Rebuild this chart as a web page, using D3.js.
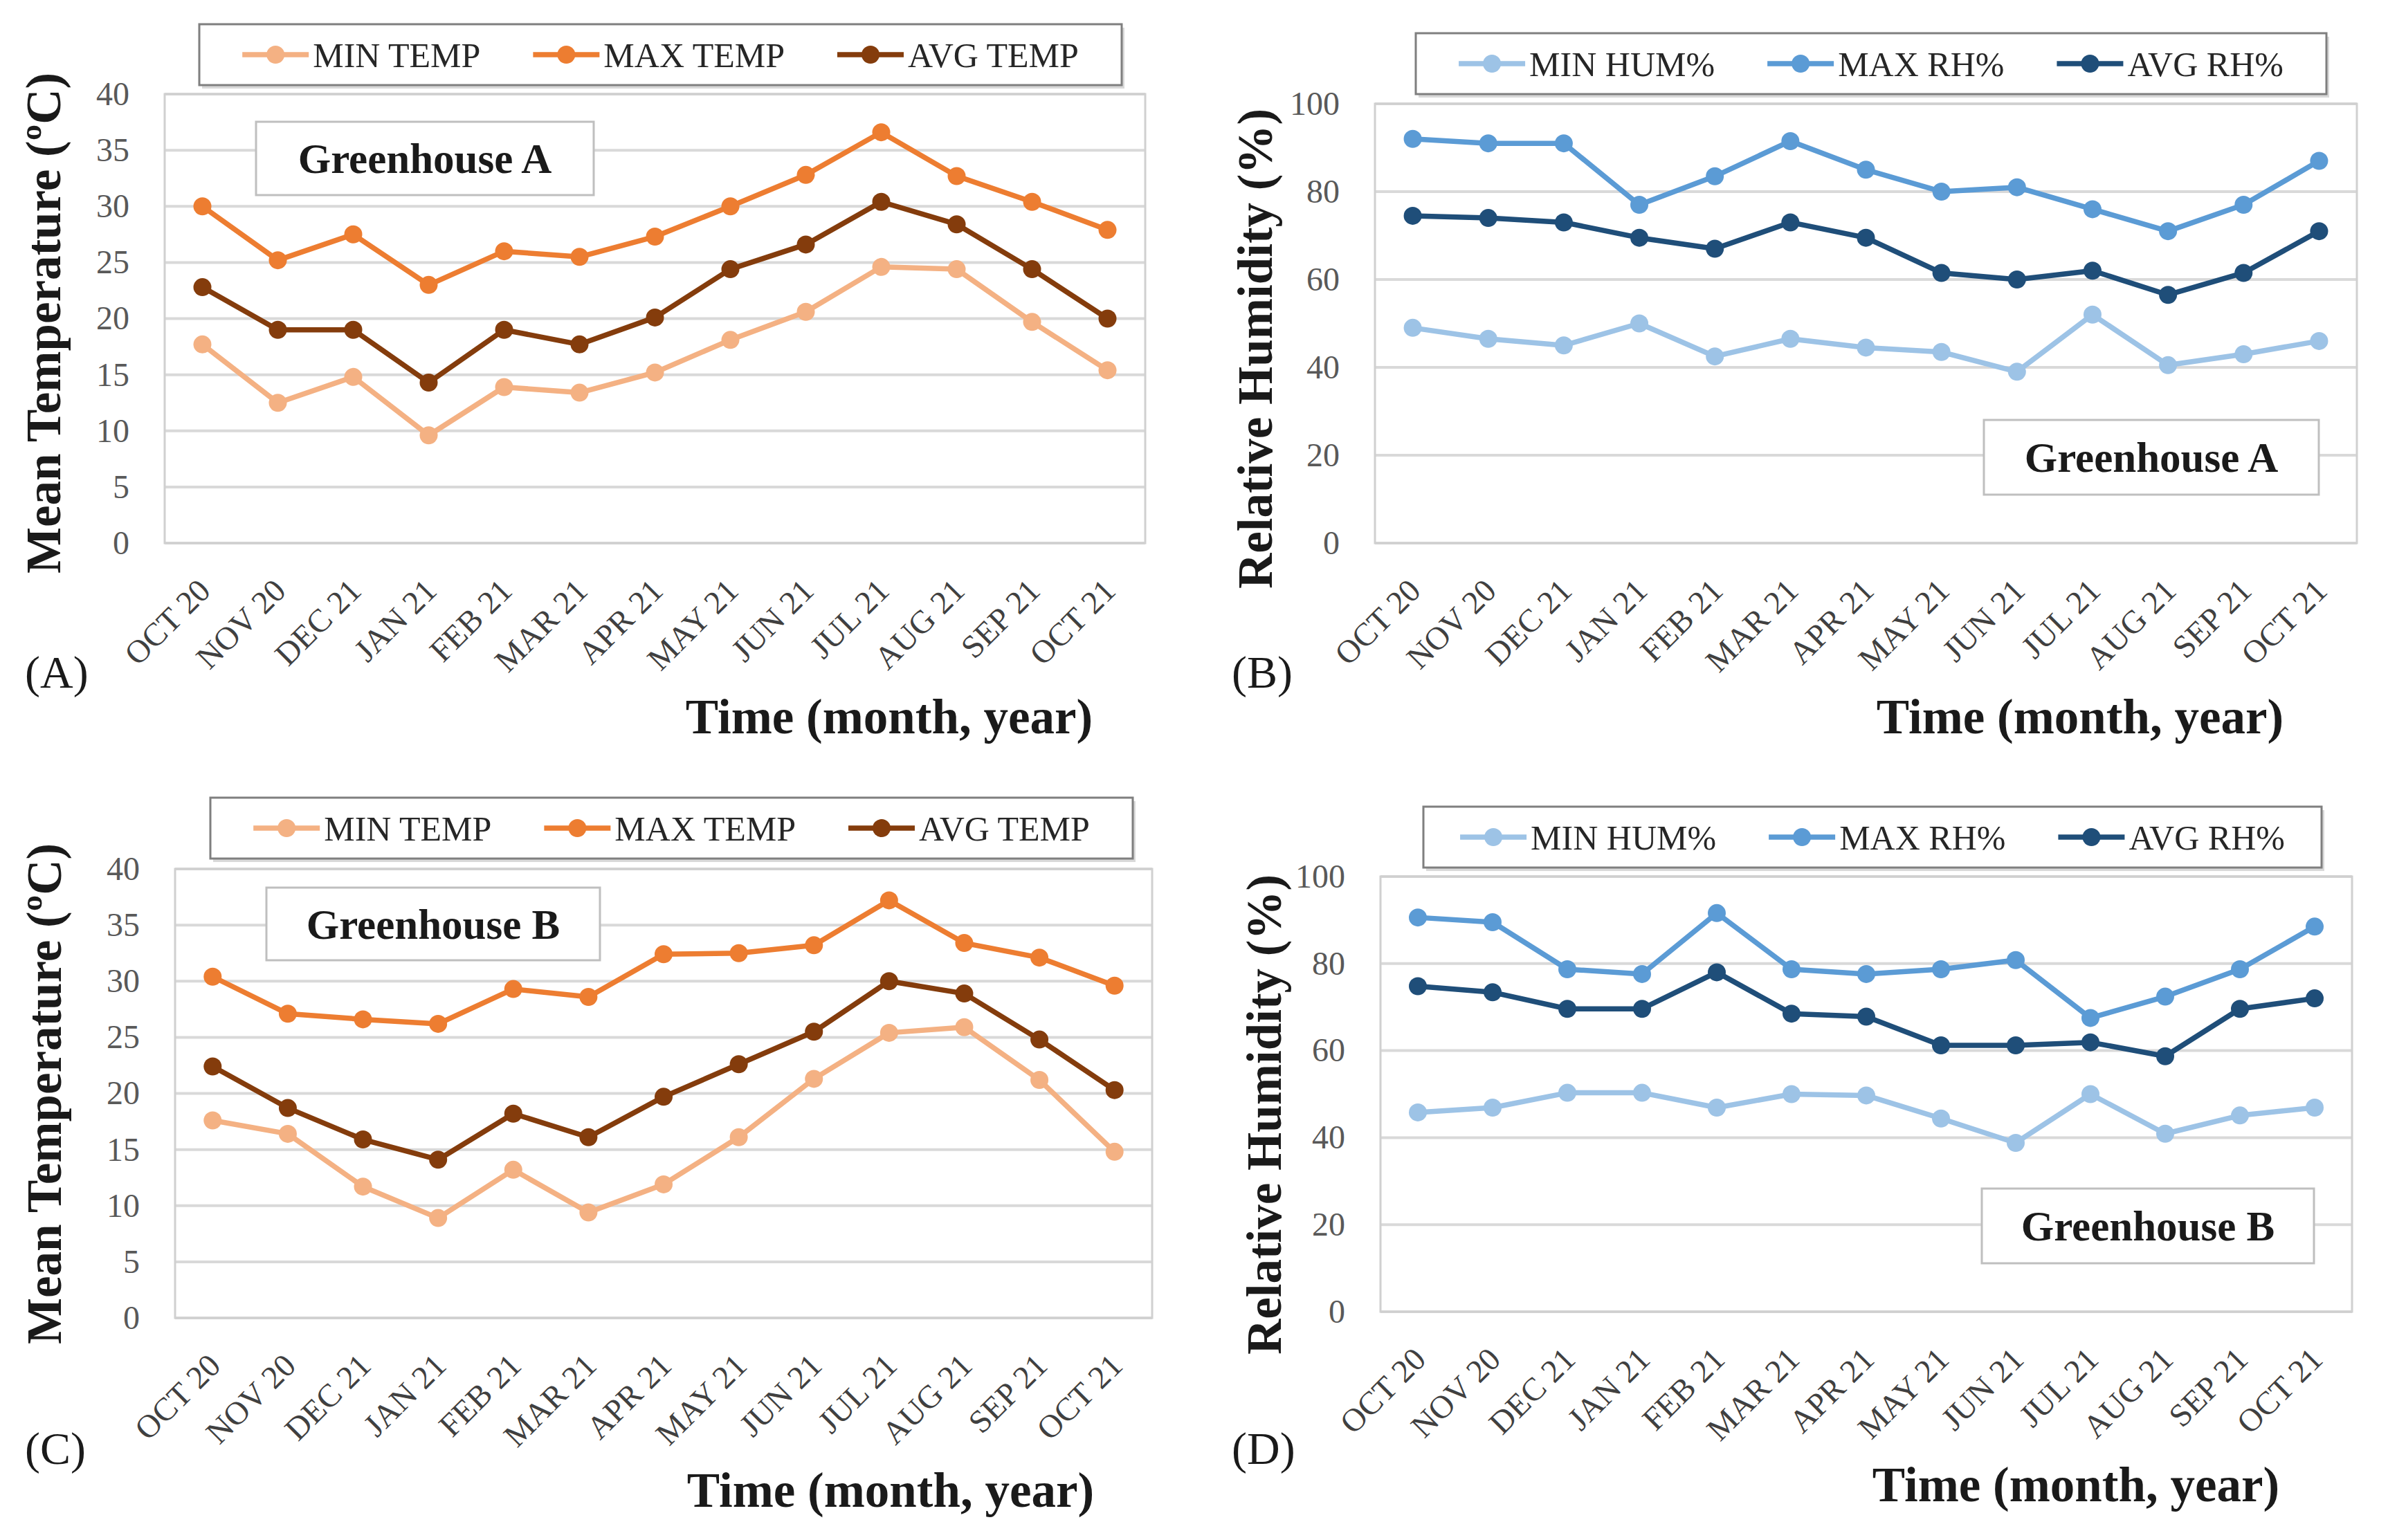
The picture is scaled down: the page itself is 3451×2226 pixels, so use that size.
<!DOCTYPE html>
<html>
<head>
<meta charset="utf-8">
<script src="https://cdn.jsdelivr.net/npm/d3@7"></script>
<style>
  body { margin: 0; background: #fff; }
  svg { display: block; }
  text { font-family: "Liberation Serif", "Times New Roman", serif; }
</style>
</head>
<body>
<svg id="chart"></svg>
<script>
const months = ["OCT 20", "NOV 20", "DEC 21", "JAN 21", "FEB 21", "MAR 21", "APR 21",
                "MAY 21", "JUN 21", "JUL 21", "AUG 21", "SEP 21", "OCT 21"];

// Greenhouse A
const tempMinA = [17.7, 12.5, 14.8, 9.6, 13.9, 13.4, 15.2, 18.1, 20.6, 24.6, 24.4, 19.7, 15.4];
const tempMaxA = [30.0, 25.2, 27.5, 23.0, 26.0, 25.5, 27.3, 30.0, 32.8, 36.6, 32.7, 30.4, 27.9];
const tempAvgA = [22.8, 19.0, 19.0, 14.3, 19.0, 17.7, 20.1, 24.4, 26.6, 30.4, 28.4, 24.4, 20.0];
const rhMinA = [49.0, 46.5, 45.0, 50.0, 42.5, 46.5, 44.5, 43.5, 39.0, 52.0, 40.5, 43.0, 46.0];
const rhMaxA = [92.0, 91.0, 91.0, 77.0, 83.5, 91.5, 85.0, 80.0, 81.0, 76.0, 71.0, 77.0, 87.0];
const rhAvgA = [74.5, 74.0, 73.0, 69.5, 67.0, 73.0, 69.5, 61.5, 60.0, 62.0, 56.5, 61.5, 71.0];

// Greenhouse B
const tempMinB = [17.6, 16.4, 11.7, 8.9, 13.2, 9.4, 11.9, 16.1, 21.3, 25.4, 25.9, 21.2, 14.8];
const tempMaxB = [30.4, 27.1, 26.6, 26.2, 29.3, 28.6, 32.4, 32.5, 33.2, 37.2, 33.4, 32.1, 29.6];
const tempAvgB = [22.4, 18.7, 15.9, 14.1, 18.2, 16.1, 19.7, 22.6, 25.5, 30.0, 28.9, 24.8, 20.3];
const rhMinB = [45.8, 46.9, 50.3, 50.3, 46.9, 50.0, 49.7, 44.4, 38.8, 50.0, 40.9, 45.1, 46.9];
const rhMaxB = [90.6, 89.5, 78.7, 77.6, 91.6, 78.7, 77.6, 78.7, 80.8, 67.5, 72.4, 78.7, 88.5];
const rhAvgB = [74.8, 73.4, 69.6, 69.6, 78.0, 68.5, 67.8, 61.2, 61.2, 61.9, 58.7, 69.6, 72.0];

const tempNames = ["MIN TEMP", "MAX TEMP", "AVG TEMP"];
const rhNames = ["MIN HUM%", "MAX RH%", "AVG RH%"];
const tempColors = ["#f4b183", "#ed7d31", "#843c0c"];
const rhColors = ["#9dc3e6", "#5b9bd5", "#1f4e79"];

const W = 3451, H = 2226;
const svg = d3.select("#chart").attr("width", W).attr("height", H);

const panels = [
  { letter: "(A)", house: "Greenhouse A", yTitle: "Mean Temperature (ºC)", yMax: 40, step: 5,
    names: tempNames, colors: tempColors, series: [tempMinA, tempMaxA, tempAvgA],
    plot: {left: 238, right: 1655, top: 136, bottom: 785},
    legend: {x: 288, y: 35, w: 1333, h: 88},
    label: {x: 370, y: 176, w: 488, h: 106},
    letterPos: [36, 994], timePos: [1285, 1060], yTitlePos: [62, 467] },
  { letter: "(B)", house: "Greenhouse A", yTitle: "Relative Humidity (%)", yMax: 100, step: 20,
    names: rhNames, colors: rhColors, series: [rhMinA, rhMaxA, rhAvgA],
    plot: {left: 1987, right: 3406, top: 150, bottom: 785},
    legend: {x: 2046, y: 48, w: 1316, h: 88},
    label: {x: 2867, y: 607, w: 484, h: 108},
    letterPos: [1780, 994], timePos: [3006, 1060], yTitlePos: [1813, 504] },
  { letter: "(C)", house: "Greenhouse B", yTitle: "Mean Temperature (ºC)", yMax: 40, step: 5,
    names: tempNames, colors: tempColors, series: [tempMinB, tempMaxB, tempAvgB],
    plot: {left: 253, right: 1665, top: 1256, bottom: 1905},
    legend: {x: 304, y: 1153, w: 1333, h: 88},
    label: {x: 385, y: 1283, w: 482, h: 105},
    letterPos: [36, 2116], timePos: [1287, 2178], yTitlePos: [63, 1581] },
  { letter: "(D)", house: "Greenhouse B", yTitle: "Relative Humidity (%)", yMax: 100, step: 20,
    names: rhNames, colors: rhColors, series: [rhMinB, rhMaxB, rhAvgB],
    plot: {left: 1995, right: 3399, top: 1267, bottom: 1896},
    legend: {x: 2057, y: 1166, w: 1298, h: 88},
    label: {x: 2864, y: 1718, w: 480, h: 108},
    letterPos: [1780, 2116], timePos: [3000, 2170], yTitlePos: [1826, 1611] }
];

panels.forEach(drawPanel);

function drawPanel(p) {
  const g = svg.append("g");
  const x = d3.scalePoint().domain(months).range([p.plot.left, p.plot.right]).padding(0.5);
  const y = d3.scaleLinear().domain([0, p.yMax]).range([p.plot.bottom, p.plot.top]);
  const ticks = d3.range(0, p.yMax + p.step / 2, p.step);

  // gridlines
  g.append("g").selectAll("line").data(ticks).join("line")
    .attr("x1", p.plot.left).attr("x2", p.plot.right)
    .attr("y1", d => y(d)).attr("y2", d => y(d))
    .attr("stroke", "#d9d9d9").attr("stroke-width", 4);

  // plot border
  g.append("rect")
    .attr("x", p.plot.left).attr("y", p.plot.top)
    .attr("width", p.plot.right - p.plot.left).attr("height", p.plot.bottom - p.plot.top)
    .attr("fill", "none").attr("stroke", "#d0d0d0").attr("stroke-width", 3);

  // y axis labels
  const ya = g.append("g").attr("transform", `translate(${p.plot.left},0)`)
    .call(d3.axisLeft(y).tickValues(ticks).tickSize(0).tickPadding(51));
  ya.select(".domain").remove();
  ya.selectAll("text").attr("font-size", 48).attr("fill", "#595959")
    .style("font-family", "'Liberation Serif', serif");

  // x axis labels
  const xa = g.append("g").attr("transform", `translate(0,${p.plot.bottom})`)
    .call(d3.axisBottom(x).tickSize(0));
  xa.select(".domain").remove();
  xa.selectAll("text")
    .attr("x", 0).attr("y", 0).attr("dy", "0.35em")
    .attr("text-anchor", "end")
    .attr("transform", "translate(2,60) rotate(-45)")
    .attr("font-size", 47).attr("fill", "#404040")
    .style("font-family", "'Liberation Serif', serif");

  // series
  const line = d3.line().x((d, i) => x(months[i])).y(d => y(d));
  p.series.forEach((s, k) => {
    g.append("path").datum(s)
      .attr("fill", "none").attr("stroke", p.colors[k]).attr("stroke-width", 7.5)
      .attr("stroke-linejoin", "round").attr("d", line);
    g.append("g").selectAll("circle").data(s).join("circle")
      .attr("cx", (d, i) => x(months[i])).attr("cy", d => y(d))
      .attr("r", 13).attr("fill", p.colors[k]);
  });

  // greenhouse label box
  g.append("rect")
    .attr("x", p.label.x).attr("y", p.label.y).attr("width", p.label.w).attr("height", p.label.h)
    .attr("fill", "#fff").attr("stroke", "#bfbfbf").attr("stroke-width", 3);
  g.append("text")
    .attr("x", p.label.x + p.label.w / 2).attr("y", p.label.y + p.label.h / 2)
    .attr("dy", "0.35em").attr("text-anchor", "middle")
    .attr("font-size", 61).attr("font-weight", "bold").attr("fill", "#1a1a1a")
    .text(p.house);

  // legend
  const L = p.legend;
  g.append("rect").attr("x", L.x + 4).attr("y", L.y + 5).attr("width", L.w).attr("height", L.h)
    .attr("fill", "#d9d9d9");
  g.append("rect").attr("x", L.x).attr("y", L.y).attr("width", L.w).attr("height", L.h)
    .attr("fill", "#fff").attr("stroke", "#7f7f7f").attr("stroke-width", 3);
  const lg = g.append("g");
  const sym = 96, gapT = 6, gapItem = 76;
  const items = p.names.map((n, k) => {
    const it = lg.append("g");
    it.append("line").attr("x1", 0).attr("x2", sym).attr("y1", 0).attr("y2", 0)
      .attr("stroke", p.colors[k]).attr("stroke-width", 7.5);
    it.append("circle").attr("cx", sym / 2).attr("cy", 0).attr("r", 13).attr("fill", p.colors[k]);
    const t = it.append("text").attr("x", sym + gapT).attr("y", 0).attr("dy", "0.35em")
      .attr("font-size", 50).attr("fill", "#262626").text(n);
    return {it, w: sym + gapT + t.node().getComputedTextLength()};
  });
  const total = d3.sum(items, d => d.w) + gapItem * (items.length - 1);
  let cx = L.x + (L.w - total) / 2;
  items.forEach(d => {
    d.it.attr("transform", `translate(${cx},${L.y + L.h / 2})`);
    cx += d.w + gapItem;
  });

  // titles
  g.append("text")
    .attr("transform", `translate(${p.yTitlePos[0]},${p.yTitlePos[1]}) rotate(-90)`)
    .attr("text-anchor", "middle").attr("dy", "0.35em")
    .attr("font-size", 71).attr("font-weight", "bold").attr("fill", "#1a1a1a")
    .text(p.yTitle);
  g.append("text")
    .attr("x", p.timePos[0]).attr("y", p.timePos[1]).attr("text-anchor", "middle")
    .attr("font-size", 71).attr("font-weight", "bold").attr("fill", "#1a1a1a")
    .text("Time (month, year)");
  g.append("text")
    .attr("x", p.letterPos[0]).attr("y", p.letterPos[1])
    .attr("font-size", 66).attr("fill", "#1a1a1a")
    .text(p.letter);
}
</script>
</body>
</html>
